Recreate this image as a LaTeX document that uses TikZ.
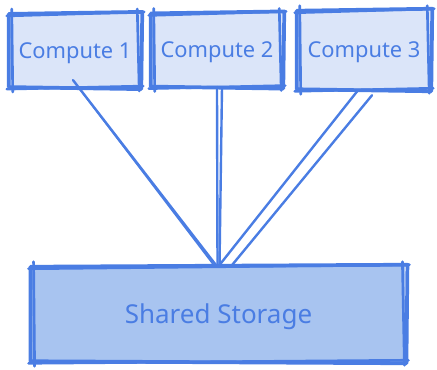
\documentclass[tikz,border=0pt]{standalone}
\usepackage{fontspec}
\setmainfont{Noto Sans}
\usetikzlibrary{calc}

\definecolor{inkblue}{HTML}{4A7DE3}
\definecolor{paleblue}{HTML}{DBE5F9}
\definecolor{softblue}{HTML}{A8C4F0}

\tikzset{
  box/.style={fill=#1, inner sep=0pt, text=inkblue},
  computebox/.style={box=paleblue, minimum width=97.5pt, minimum height=56pt,
    font=\fontsize{16.4}{19}\selectfont},
  storagebox/.style={box=softblue, minimum width=280pt, minimum height=72pt,
    font=\fontsize{19.5}{23}\selectfont},
  rough/.style={draw=inkblue, line width=2.8pt, line cap=round, line join=round},
  wire/.style={draw=inkblue, line width=1.8pt, line cap=round},
}

% two loose pen strokes round a node
\newcommand\roughbox[1]{%
  \draw[rough] ($(#1.north west)+(-1,1)$) -- ($(#1.north east)+(2,-1)$)
    -- ($(#1.south east)+(1,1)$) -- ($(#1.south west)+(-1,-1)$) -- cycle;
  \draw[rough, line width=2pt] ($(#1.north west)+(-3,3)$) -- ($(#1.north east)+(4,-1)$);
  \draw[rough, line width=2pt] ($(#1.north east)+(-3,-4)$) -- ($(#1.south east)+(-1,3)$);
  \draw[rough, line width=2pt] ($(#1.south east)+(3,-2)$) -- ($(#1.south west)+(-3,1)$);
  \draw[rough, line width=2pt] ($(#1.south west)+(3,4)$) -- ($(#1.north west)+(2,-4)$);
}

\begin{document}
\begin{tikzpicture}[x=0.75pt, y=-0.75pt]
  \useasboundingbox (0,0) rectangle (437,369);

  % the three compute boxes and the storage below
  \node[computebox, text depth=-2pt] (c1) at (75,50.5) {Compute 1};
  \node[computebox, text depth=-2pt] (c2) at (217,50) {Compute 2};
  \node[computebox, text depth=-2pt, minimum width=99pt, minimum height=60pt] (c3) at (364,50) {Compute 3};
  \node[storagebox, text depth=-3pt] (store) at (218.5,314) {Shared Storage};

  % links down to the storage
  \draw[wire] ($(c1.south)+(-2,-8)$) -- ($(store.north)+(-2,0)$);
  \draw[wire, line width=1.2pt] ($(c1.south)+(1,-4)$) -- ($(store.north)+(-5,-1)$);
  \draw[wire] (c2.south) -- ($(store.north)+(-1,0)$);
  \draw[wire] ($(c2.south)+(5,0)$) -- ($(store.north)+(1,0)$);
  \draw[wire] ($(c3.south)+(-6,0)$) -- ($(store.north)+(2,-2)$);
  \draw[wire] ($(c3.south)+(8,5)$) -- ($(store.north)+(13,0)$);

  % outlines on top
  \roughbox{c1}
  \roughbox{c2}
  \roughbox{c3}
  \roughbox{store}
\end{tikzpicture}
\end{document}
